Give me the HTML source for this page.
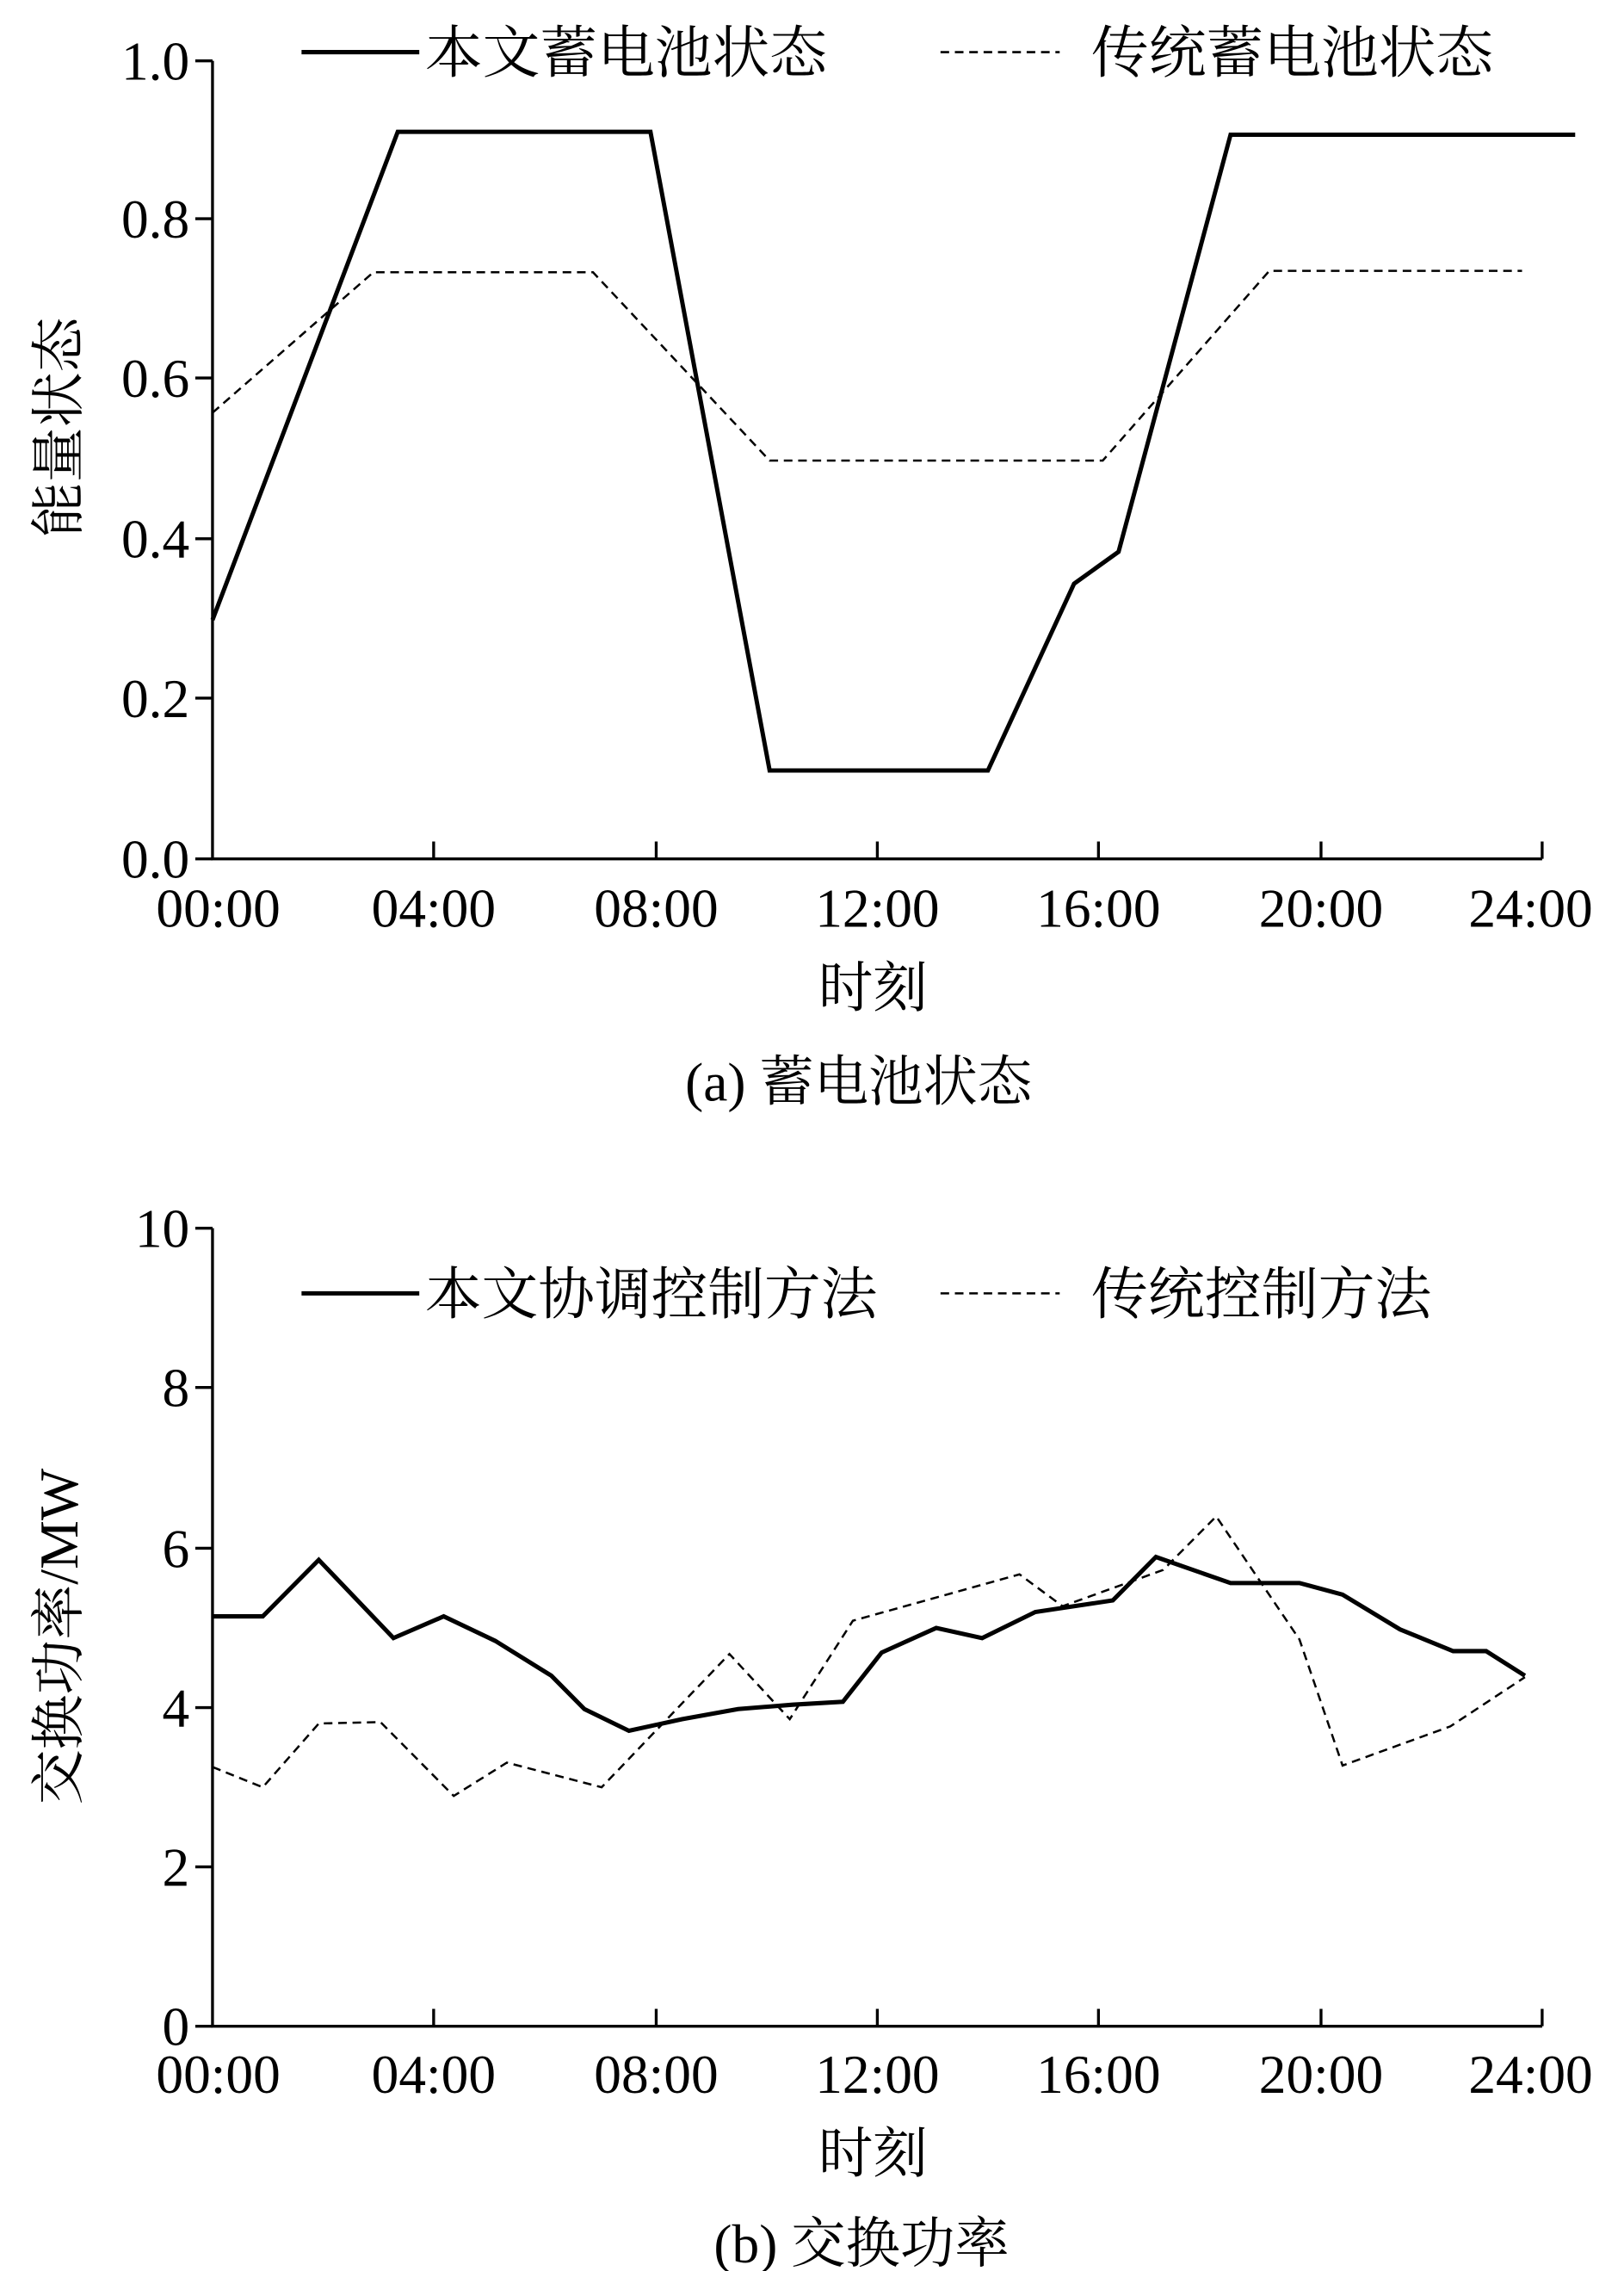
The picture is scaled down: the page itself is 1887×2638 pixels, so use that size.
<!DOCTYPE html>
<html><head><meta charset="utf-8"><style>html,body{margin:0;padding:0;background:#fff}svg{display:block}</style></head>
<body>
<svg width="1887" height="2638" viewBox="0 0 1131 1568" preserveAspectRatio="none" xmlns="http://www.w3.org/2000/svg" font-family="'Liberation Serif','Noto Serif CJK SC','Noto Sans CJK SC',serif" font-size="38" fill="#000">
<g stroke="#000" stroke-width="2" fill="none">
<path d="M148 42V593H1074"/>
<path d="M136 42H148M136 151H148M136 261H148M136 372H148M136 482H148M136 593H148"/>
<path d="M302 593V581M457 593V581M611 593V581M765 593V581M920 593V581M1074 593V581"/>
<path d="M148 848V1399H1074"/>
<path d="M136 848H148M136 958H148M136 1069H148M136 1179H148M136 1289H148M136 1399H148"/>
<path d="M302 1399V1387M457 1399V1387M611 1399V1387M765 1399V1387M920 1399V1387M1074 1399V1387"/>
</g>
<g stroke="#000" fill="none" stroke-linejoin="miter">
<polyline stroke-width="3" points="148,428 277,91 453,91 536,532 688,532 748,403 779,381 857,93 1097,93"/>
<polyline stroke-width="1.5" stroke-dasharray="6,4" points="148,285 260,188 413,188 536,318 768,318 884,187 1060,187"/>
<polyline stroke-width="3" points="148,1116 183,1116 222,1077 274,1131 309,1116 345,1133 384,1157 407,1180 438,1195 475,1187 514,1180 552,1177 587,1175 614,1141 652,1124 684,1131 721,1113 775,1105 805,1075 857,1093 905,1093 935,1101 975,1125 1012,1140 1035,1140 1062,1157"/>
<polyline stroke-width="1.5" stroke-dasharray="6,4" points="148,1220 183,1234 222,1190 265,1189 316,1240 353,1217 419,1234 508,1142 550,1187 594,1119 710,1087 740,1109 810,1084 847,1047 905,1132 935,1219 1010,1192 1062,1158"/>
<line x1="210" y1="36" x2="292" y2="36" stroke-width="3"/>
<line x1="655" y1="36" x2="738" y2="36" stroke-width="1.5" stroke-dasharray="6,4"/>
<line x1="210" y1="893" x2="292" y2="893" stroke-width="3"/>
<line x1="655" y1="893" x2="738" y2="893" stroke-width="1.5" stroke-dasharray="6,4"/>
</g>
<g font-size="39">
<text x="296" y="50" textLength="280" lengthAdjust="spacingAndGlyphs">本文蓄电池状态</text>
<text x="760" y="50" textLength="280" lengthAdjust="spacingAndGlyphs">传统蓄电池状态</text>
<text x="296" y="907" textLength="315" lengthAdjust="spacingAndGlyphs">本文协调控制方法</text>
<text x="760" y="907" textLength="237" lengthAdjust="spacingAndGlyphs">传统控制方法</text>
</g>
<g text-anchor="end">
<text x="132" y="55">1.0</text><text x="132" y="164">0.8</text><text x="132" y="274">0.6</text><text x="132" y="385">0.4</text><text x="132" y="495">0.2</text><text x="132" y="606">0.0</text>
<text x="132" y="861">10</text><text x="132" y="971">8</text><text x="132" y="1082">6</text><text x="132" y="1192">4</text><text x="132" y="1302">2</text><text x="132" y="1412">0</text>
</g>
<g text-anchor="middle">
<text x="152" y="640">00:00</text><text x="302" y="640">04:00</text><text x="457" y="640">08:00</text><text x="611" y="640">12:00</text><text x="765" y="640">16:00</text><text x="920" y="640">20:00</text><text x="1066" y="640">24:00</text>
<text x="152" y="1445">00:00</text><text x="302" y="1445">04:00</text><text x="457" y="1445">08:00</text><text x="611" y="1445">12:00</text><text x="765" y="1445">16:00</text><text x="920" y="1445">20:00</text><text x="1066" y="1445">24:00</text>
<text x="608" y="695">时刻</text>
<text x="598" y="760">(a) 蓄电池状态</text>
<text x="608" y="1500">时刻</text>
<text x="600" y="1562">(b) 交换功率</text>
<text transform="translate(54,295) rotate(-90)">能量状态</text>
<text transform="translate(54,1130) rotate(-90)">交换功率/MW</text>
</g>
</svg>
</body></html>
